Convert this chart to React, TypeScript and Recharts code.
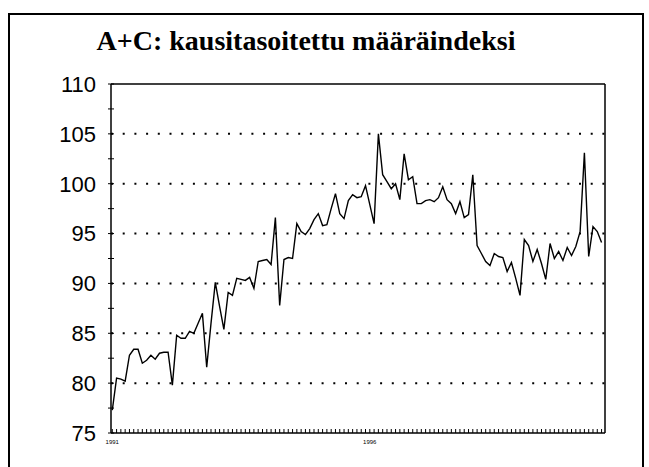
import React from "react";
import {
  LineChart,
  Line,
  XAxis,
  YAxis,
  ReferenceLine,
} from "recharts";

// monthly index values
const values = [
  77.3, 80.5, 80.4, 80.2, 82.8, 83.4, 83.4, 82.0, 82.3, 82.8, 82.4, 83.0,
  83.1, 83.1, 79.8, 84.8, 84.5, 84.5, 85.2, 85.0, 86.0, 87.0, 81.6, 86.0,
  90.1, 87.7, 85.4, 89.1, 88.8, 90.5, 90.4, 90.3, 90.6, 89.5, 92.2, 92.3,
  92.4, 91.9, 96.6, 87.8, 92.4, 92.6, 92.5, 96.0, 95.2, 94.9, 95.5, 96.4,
  97.0, 95.8, 95.9, 97.5, 99.0, 97.0, 96.5, 98.3, 98.9, 98.6, 98.7, 99.8,
  97.9, 96.0, 105.0, 100.9, 100.2, 99.5, 100.0, 98.4, 103.0, 100.4, 100.7,
  98.0, 98.0, 98.3, 98.4, 98.2, 98.6, 99.7, 98.4, 98.0, 97.0, 98.2, 96.6,
  96.9, 100.9, 93.8, 93.0, 92.2, 91.8, 93.0, 92.7, 92.6, 91.2, 92.1, 90.5,
  88.8, 94.4, 93.8, 92.2, 93.4, 92.0, 90.4, 94.0, 92.5, 93.2, 92.3, 93.6,
  92.8, 93.7, 95.2, 103.1, 92.7, 95.7, 95.2, 94.1,
];

const yearLabels: Record<number, string> = { 0: "1991", 60: "1996" };
const yTicks = [75, 77.5, 80, 82.5, 85, 87.5, 90, 92.5, 95, 97.5, 100, 102.5, 105, 107.5, 110];
const gridValues = [80, 85, 90, 95, 100, 105];

const data = values.map((v, i) => ({ i, v }));
const xTicks = values.map((_, i) => i);
const xMax = 114.8;

const XTick = (props: any) => {
  const { x, y, payload } = props;
  const label = yearLabels[payload.value];
  return (
    <g>
      <line x1={x} x2={x} y1={y - 4} y2={y} stroke="#000" strokeWidth={1} />
      {label && (
        <text
          x={x}
          y={y + 11}
          textAnchor="middle"
          fontSize={6}
          fontFamily="Liberation Sans"
          fill="#000"
        >
          {label}
        </text>
      )}
    </g>
  );
};

const YTick = (props: any) => {
  const { x, y, payload } = props;
  const major = payload.value % 5 === 0;
  return (
    <g>
      <line x1={x - 3} x2={x + 3} y1={y} y2={y} stroke="#000" strokeWidth={1} />
      {major && (
        <text
          x={x - 15}
          y={y}
          dy="0.36em"
          textAnchor="end"
          fontSize={22}
          fontFamily="Liberation Sans"
          fill="#000"
        >
          {payload.value}
        </text>
      )}
    </g>
  );
};

export default function App() {
  return (
    <div style={{ position: "absolute", left: 0, top: 0, width: 649, height: 467, overflow: "hidden", background: "#fff" }}>
      <div
        style={{
          position: "absolute",
          left: 8,
          top: 13,
          width: 636,
          height: 470,
          border: "2px solid #000",
          boxSizing: "border-box",
        }}
      />
      <div
        style={{
          position: "absolute",
          left: 0,
          top: 27,
          width: 612,
          textAlign: "center",
          fontFamily: "Liberation Serif",
          fontWeight: "bold",
          fontSize: 28,
          lineHeight: "28px",
          color: "#000",
        }}
      >
        A+C: kausitasoitettu määräindeksi
      </div>
      <div style={{ position: "absolute", left: 0, top: 0 }}>
        <LineChart
          width={649}
          height={467}
          data={data}
          margin={{ top: 84, right: 44, bottom: 14, left: 51 }}
        >
          <XAxis
            dataKey="i"
            type="number"
            domain={[-0.3, xMax]}
            ticks={xTicks}
            interval={0}
            tickSize={0}
            tickMargin={0}
            tickLine={false}
            tick={<XTick />}
            height={20}
            axisLine={{ stroke: "#000", strokeWidth: 1.5 }}
          />
          <YAxis
            type="number"
            domain={[75, 110]}
            ticks={yTicks}
            interval={0}
            tickSize={0}
            tickMargin={0}
            tickLine={false}
            tick={<YTick />}
            width={60}
            axisLine={{ stroke: "#000", strokeWidth: 1.5 }}
          />
          {gridValues.map((g) => (
            <ReferenceLine
              key={g}
              y={g}
              stroke="#000"
              strokeWidth={2}
              strokeDasharray="2 9.7"
            />
          ))}
          <ReferenceLine y={110} stroke="#000" strokeWidth={1.5} />
          <ReferenceLine x={xMax} stroke="#000" strokeWidth={1.5} />
          <Line
            type="linear"
            dataKey="v"
            stroke="#000"
            strokeWidth={1.4}
            dot={false}
            isAnimationActive={false}
          />
        </LineChart>
      </div>
    </div>
  );
}
